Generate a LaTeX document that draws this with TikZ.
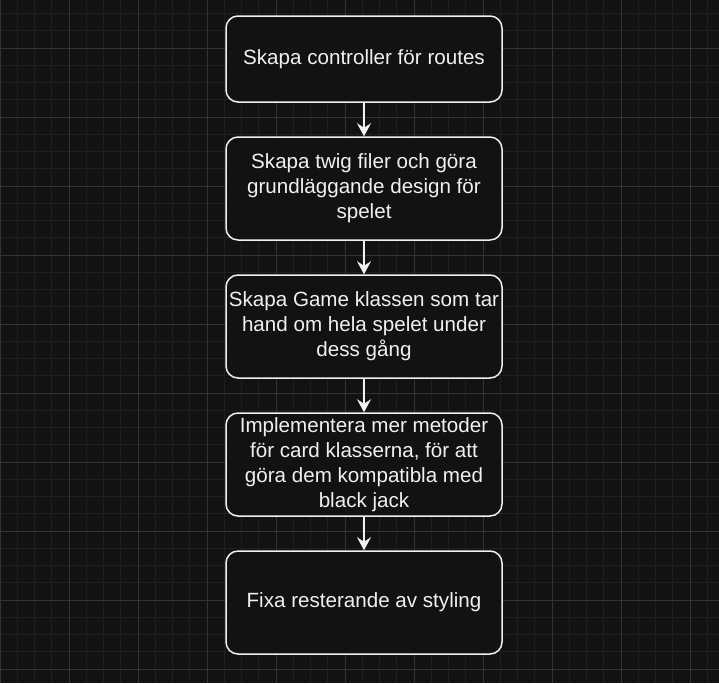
\documentclass[tikz,border=0pt]{standalone}
\usepackage{fontspec}
\setmainfont{Liberation Sans}
\usetikzlibrary{arrows.meta}
\definecolor{bg}{HTML}{121212}
\definecolor{gminor}{HTML}{1F1F1F}
\definecolor{gmajor}{HTML}{333333}
\definecolor{fg}{HTML}{F0F0F0}
\tikzset{
  stepbox/.style={draw=fg, fill=bg, line width=1.5pt, rounded corners=12pt,
    minimum width=276pt, minimum height=86pt, inner sep=0pt, text=fg,
    align=center, font=\fontsize{20.6pt}{25pt}\selectfont},
  tallbox/.style={stepbox, minimum height=103pt},
  flow/.style={draw=fg, line width=1.5pt, -{Stealth[length=13pt,width=14pt,inset=4.5pt]}}
}
\begin{document}
\begin{tikzpicture}[x=1pt,y=-1pt]
\fill[bg] (0,0) rectangle (719,683);
\useasboundingbox (0,0) rectangle (719,683);
\foreach \i in {0,...,42} {
  \draw[gminor, line width=1pt] ({\i*17.25},0) -- ({\i*17.25},683);
}
\foreach \i in {0,...,40} {
  \draw[gminor, line width=1pt] (0,{13.5+\i*17.25}) -- (719,{13.5+\i*17.25});
}
\foreach \i in {0,...,10} {
  \draw[gmajor, line width=1pt] ({\i*69},0) -- ({\i*69},683);
}
\foreach \i in {0,...,10} {
  \draw[gmajor, line width=1pt] (0,{-21+\i*69}) -- (719,{-21+\i*69});
}
\node[stepbox] (a) at (364,59) {Skapa controller för routes};
\node[tallbox] (b) at (364,188.5) {Skapa twig filer och göra\\grundläggande design för\\spelet};
\node[tallbox] (c) at (364,326.5) {Skapa Game klassen som tar\\hand om hela spelet under\\dess gång};
\node[tallbox] (d) at (364,464.5) {Implementera mer metoder\\för card klasserna, för att\\göra dem kompatibla med\\black jack};
\node[tallbox] (e) at (364,602.5) {Fixa resterande av styling};
\draw[flow] (a) -- (b);
\draw[flow] (b) -- (c);
\draw[flow] (c) -- (d);
\draw[flow] (d) -- (e);
\end{tikzpicture}
\end{document}
